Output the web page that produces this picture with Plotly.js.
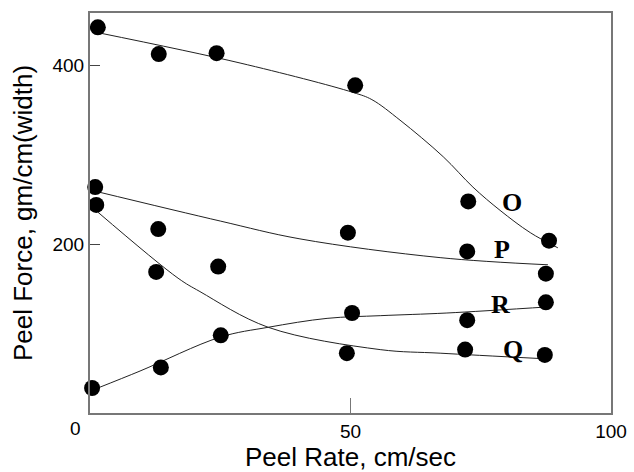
<!DOCTYPE html>
<html>
<head>
<meta charset="utf-8">
<script src="https://cdn.plot.ly/plotly-3.0.1.min.js"></script>
<style>html,body{margin:0;padding:0;background:#fff;}#chart{width:634px;height:472px;}</style>
</head>
<body>
<div id="chart"></div>
<script>
// Measured points
const oX = [1.5, 13.2, 24.3, 50.9, 72.6, 88.1];
const oY = [443, 413, 414, 378, 248, 204];
const pX = [1.0, 13.1, 49.5, 72.4, 87.5];
const pY = [264, 217, 213, 192, 167];
const qX = [1.2, 12.7, 24.6, 49.3, 72.0, 87.3];
const qY = [244, 169, 175, 78, 82, 76];
const rX = [0.4, 13.6, 25.1, 50.3, 72.4, 87.5];
const rY = [39, 62, 98, 123, 115, 135];

// Fitted curves as drawn in the reference
const oFitX = [1.5, 28.8, 50.5, 54.1, 59.5, 67.8, 73.5, 78.7, 84.5, 89.8];
const oFitY = [437, 403, 370, 362, 339, 298, 264, 238, 213, 196];
const pFitX = [1.3, 25, 40.3, 67.2, 87.9];
const pFitY = [259, 226, 206, 185, 177];
const qFitX = [1.5, 16.9, 21.1, 34.2, 55.7, 67.2, 86.4];
const qFitY = [236, 162, 147, 107, 82, 78, 72];
const rFitX = [1.5, 9.6, 25, 34.2, 45.5, 55.7, 68.5, 88.3];
const rFitY = [39, 58, 96, 107, 117, 120, 123, 130];

const labels = ['O', 'P', 'R', 'Q'];
const labelX = [81, 79.1, 78.7, 81.2];
const labelY = [247, 194, 133, 82];

const xTicks = [50, 100];
const yTicks = [200, 400];

const fits = [[oFitX, oFitY], [pFitX, pFitY], [qFitX, qFitY], [rFitX, rFitY]];
const pts = [[oX, oY], [pX, pY], [qX, qY], [rX, rY]];

const traces = [];
fits.forEach(f => traces.push({
  x: f[0], y: f[1], mode: 'lines', type: 'scatter',
  line: {color: '#222', width: 1, shape: 'spline', smoothing: 1},
  hoverinfo: 'skip', showlegend: false
}));
pts.forEach(p => traces.push({
  x: p[0], y: p[1], mode: 'markers', type: 'scatter',
  marker: {color: '#000', size: 16}, showlegend: false, cliponaxis: false
}));

const annotations = labels.map((t, i) => ({
  x: labelX[i], y: labelY[i], xref: 'x', yref: 'y', text: t, showarrow: false,
  font: {family: 'Liberation Serif, serif', size: 26, color: '#000', weight: 'bold'}
}));
annotations.push({
  x: 0, y: 0, xref: 'paper', yref: 'paper', text: '0', showarrow: false,
  xanchor: 'right', yanchor: 'middle', xshift: -7, yshift: -15,
  font: {family: 'Liberation Sans, Arial, sans-serif', size: 19, color: '#000'}
});

const layout = {
  width: 634, height: 472,
  margin: {l: 90, r: 23, t: 13, b: 59},
  paper_bgcolor: '#fff', plot_bgcolor: '#fff',
  font: {family: 'Liberation Sans, Arial, sans-serif', color: '#000'},
  xaxis: {
    range: [0, 100], tickvals: xTicks, ticktext: xTicks.map(String),
    ticks: 'inside', ticklen: 15, tickwidth: 1, tickcolor: '#777',
    showline: true, linecolor: '#777', linewidth: 2, mirror: true,
    showgrid: false, zeroline: false,
    tickfont: {size: 19, color: '#000'},
    title: {text: 'Peel Rate, cm/sec', font: {size: 26, color: '#000'}, standoff: 8}
  },
  yaxis: {
    range: [11, 459], tickvals: yTicks, ticktext: yTicks.map(String),
    ticks: 'inside', ticklen: 10, tickwidth: 1, tickcolor: '#444',
    showline: true, linecolor: '#777', linewidth: 2, mirror: true,
    showgrid: false, zeroline: false,
    tickfont: {size: 19, color: '#000'},
    title: {text: 'Peel Force, gm/cm(width)', font: {size: 26, color: '#000'}, standoff: 12}
  },
  annotations: annotations
};

Plotly.newPlot('chart', traces, layout, {staticPlot: true, displayModeBar: false});
</script>
</body>
</html>
